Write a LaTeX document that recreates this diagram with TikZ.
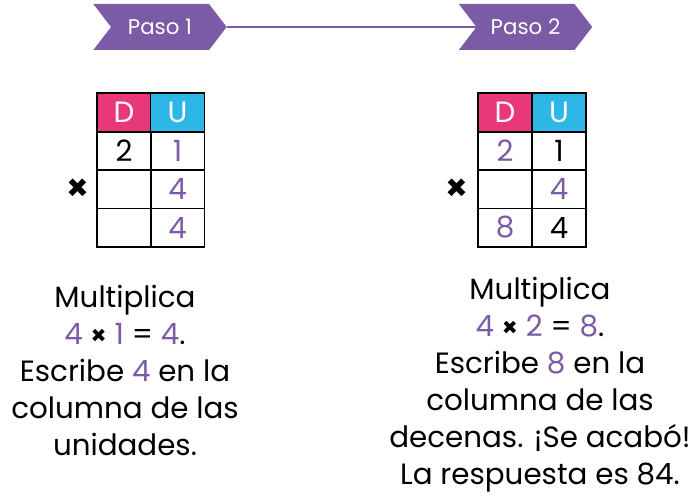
\documentclass[tikz,border=0pt]{standalone}
\usepackage{fontspec}
\setmainfont{Poppins}
\usetikzlibrary{shapes.symbols,positioning,backgrounds}

\definecolor{pasopurple}{HTML}{7B5BA6}
\definecolor{headpink}{HTML}{E8387A}
\definecolor{headblue}{HTML}{2DB6E6}

\newcommand{\pdig}[1]{\textcolor{pasopurple}{#1}}
\newcommand{\por}{{\fontsize{19}{19}\selectfont\bfseries×}}

\tikzset{
  paso/.style={signal, signal from=west, signal to=east, signal pointer angle=105,
    fill=pasopurple, text=white, minimum width=100pt, minimum height=34.5pt,
    inner sep=0pt, font=\fontsize{16}{16}\selectfont},
  cell/.style={draw, line width=1.1pt, minimum width=40.5pt, minimum height=28.9pt,
    inner sep=0pt, font=\fontsize{22}{22}\selectfont},
  headD/.style={cell, fill=headpink, text=white},
  headU/.style={cell, fill=headblue, text=white},
  times/.style={inner sep=0pt, font=\fontsize{27}{27}\selectfont\bfseries},
  note/.style={align=center, inner sep=0pt, font=\fontsize{22}{27.75}\selectfont},
}

\begin{document}
\begin{tikzpicture}[x=0.75pt,y=-0.75pt]
\useasboundingbox (0,0) rectangle (700,503);

\node[paso] (paso1) at (160,27) {Paso 1};
\node[paso] (paso2) at (525.5,27) {Paso 2};

\begin{scope}[on background layer]
\draw[pasopurple, line width=1.5pt] (paso1.east) -- (paso2.center);
\end{scope}

% tabla paso 1
\node[headD] (a0d) at (124,112.5) {D};
\node[headU] (a0u) at (177.5,112.5) {U};
\node[cell] (a1d) at (124,151) {2};
\node[cell] (a1u) at (177.5,151) {\pdig{1}};
\node[cell] (a2d) at (124,189) {};
\node[cell] (a2u) at (177.5,189) {\pdig{4}};
\node[cell] (a3d) at (124,227.5) {};
\node[cell] (a3u) at (177.5,227.5) {\pdig{4}};
\node[times] (ax) at (78,190) {×};

% tabla paso 2
\node[headD] (b0d) at (505,112.5) {D};
\node[headU] (b0u) at (559,112.5) {U};
\node[cell] (b1d) at (505,151) {\pdig{2}};
\node[cell] (b1u) at (559,151) {1};
\node[cell] (b2d) at (505,189) {};
\node[cell] (b2u) at (559,189) {\pdig{4}};
\node[cell] (b3d) at (505,227.5) {\pdig{8}};
\node[cell] (b3u) at (559,227.5) {4};
\node[times] (bx) at (457,190) {×};

\node[note] (txt1) at (125,370) {Multiplica\\
  \pdig{4} \por{} \pdig{1} = \pdig{4}.\\
  Escribe \pdig{4} en la\\ columna de las\\ unidades.};
\node[note] (txt2) at (540,385) {Multiplica\\
  \pdig{4} \por{} \pdig{2} = \pdig{8}.\\
  Escribe \pdig{8} en la\\ columna de las\\
  decenas. ¡Se acabó!\\ La respuesta es 84.};

\end{tikzpicture}
\end{document}
